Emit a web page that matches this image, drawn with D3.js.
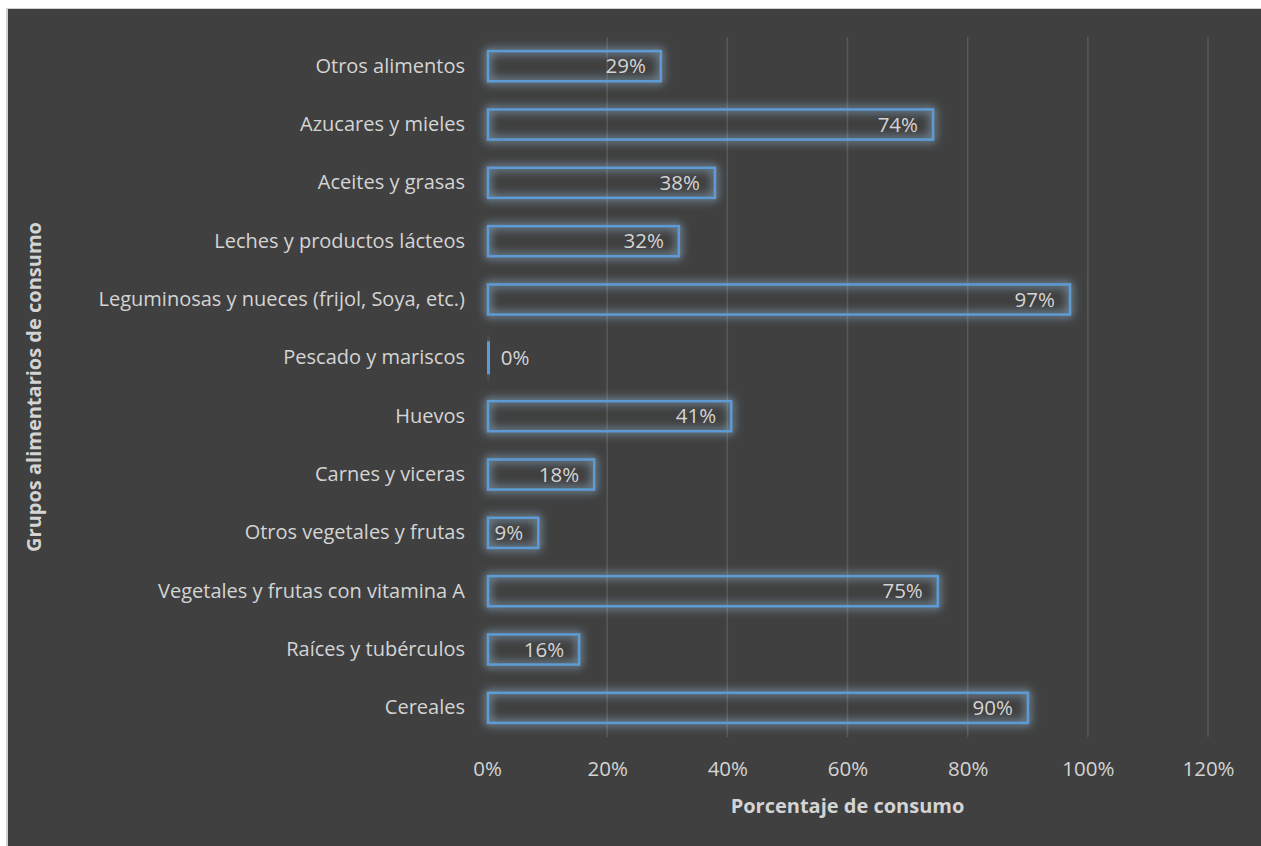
<!DOCTYPE html>
<html><head><meta charset="utf-8">
<script src="https://cdn.jsdelivr.net/npm/d3@7"></script>
<style>body{margin:0;background:#fff;} text{font-family:"Open Sans",sans-serif;}</style>
</head><body><svg id="c" width="1261" height="846"></svg>
<script>
const categories = ["Otros alimentos","Azucares y mieles","Aceites y grasas","Leches y productos lácteos","Leguminosas y nueces (frijol, Soya, etc.)","Pescado y mariscos","Huevos","Carnes y viceras","Otros vegetales y frutas","Vegetales y frutas con vitamina A","Raíces y tubérculos","Cereales"];
const values = [0.291,0.744,0.381,0.321,0.972,0.003,0.408,0.180,0.087,0.752,0.155,0.902];
const labels = ["29%","74%","38%","32%","97%","0%","41%","18%","9%","75%","16%","90%"];
const ticks = [0,0.2,0.4,0.6,0.8,1.0,1.2];
const xTitle = "Porcentaje de consumo";
const yTitle = "Grupos alimentarios de consumo";

const txt = "#d4d4d4";
const svg = d3.select("#c");
svg.append("rect").attr("x",6).attr("y",8).attr("width",1255).attr("height",838).attr("fill","#d0d0d0");
svg.append("rect").attr("x",8).attr("y",9).attr("width",1253).attr("height",837).attr("fill","#404040");

const defs = svg.append("defs");
const f = defs.append("filter").attr("id","glow").attr("x","-20%").attr("y","-80%").attr("width","140%").attr("height","260%");
f.append("feGaussianBlur").attr("in","SourceGraphic").attr("stdDeviation",5).attr("result","b");
f.append("feColorMatrix").attr("in","b").attr("type","matrix")
 .attr("values","0 0 0 0 0.36  0 0 0 0 0.61  0 0 0 0 0.84  0 0 0 1.3 0").attr("result","g");
const m = f.append("feMerge"); m.append("feMergeNode").attr("in","g"); m.append("feMergeNode").attr("in","SourceGraphic");

const x = d3.scaleLinear().domain([0,1.2]).range([487,1208]);
const y = d3.scaleBand().domain(categories).range([37,737]).paddingInner(0.45).paddingOuter(0.225);

svg.append("g").selectAll("line").data(ticks.filter(t=>t>0)).join("line")
 .attr("x1",d=>x(d)).attr("x2",d=>x(d)).attr("y1",37).attr("y2",737)
 .attr("stroke","#595959").attr("stroke-width",1.5);

const xa = svg.append("g").attr("transform","translate(0,737)")
 .call(d3.axisBottom(x).tickValues(ticks).tickFormat(d3.format(".0%")).tickSize(0).tickPadding(24));
xa.select(".domain").remove();
xa.selectAll("text").attr("fill",txt).attr("font-size",20.5).attr("font-family","Open Sans");

const ya = svg.append("g").attr("transform","translate(487,0)")
 .call(d3.axisLeft(y).tickSize(0).tickPadding(22));
ya.select(".domain").remove();
ya.selectAll("text").attr("fill",txt).attr("font-size",20).attr("font-family","Open Sans");

const bars = svg.append("g");
bars.selectAll("rect").data(categories).join("rect")
 .attr("x",x(0)+1).attr("y",d=>y(d)+1)
 .attr("width",(d,i)=>Math.max(x(values[i])-x(0)-2,1)).attr("height",y.bandwidth()-2)
 .attr("fill","none").attr("stroke","#5b9bd5").attr("stroke-width",2.5).attr("filter","url(#glow)");

svg.append("g").selectAll("text").data(categories).join("text")
 .attr("x",(d,i)=> values[i]<0.05 ? x(values[i])+12 : x(values[i])-16)
 .attr("y",d=>y(d)+y.bandwidth()/2).attr("dy","0.35em")
 .attr("text-anchor",(d,i)=> values[i]<0.05 ? "start":"end")
 .attr("fill",txt).attr("font-size",20.5).text((d,i)=>labels[i]);

svg.append("text").attr("x",(x(0)+x(1.2))/2).attr("y",813).attr("text-anchor","middle")
 .attr("fill",txt).attr("font-size",20).attr("font-weight","bold").text(xTitle);
svg.append("text").attr("transform","translate(41,387) rotate(-90)").attr("text-anchor","middle")
 .attr("fill",txt).attr("font-size",20).attr("font-weight","bold").text(yTitle);
</script></body></html>
